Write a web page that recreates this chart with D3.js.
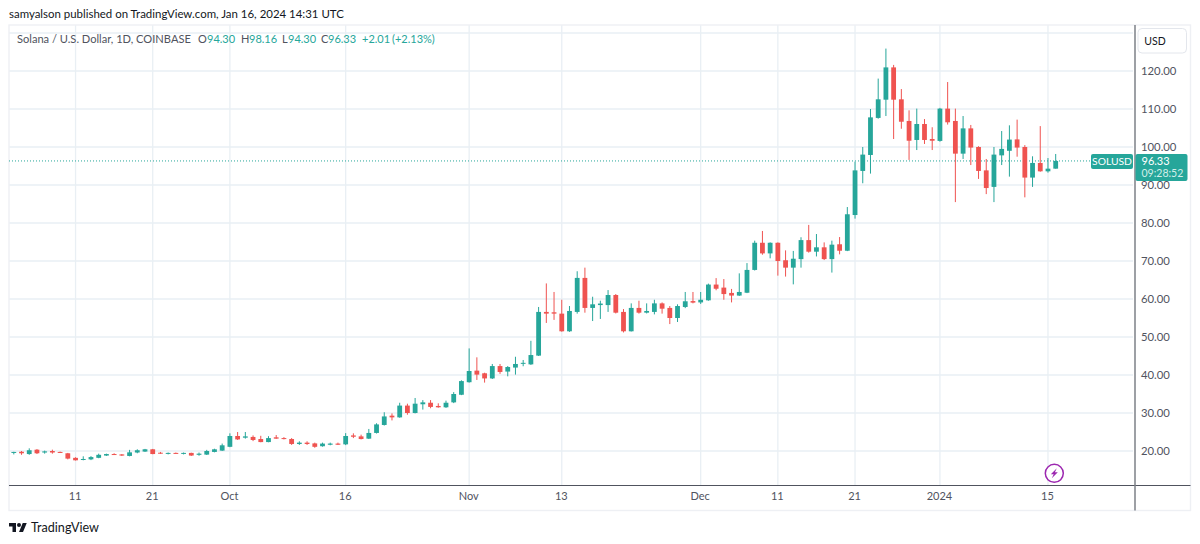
<!DOCTYPE html>
<html>
<head>
<meta charset="utf-8">
<script src="https://cdn.jsdelivr.net/npm/d3@7"></script>
<style>
  html, body { margin: 0; padding: 0; background: #fff; }
  svg { display: block; }
  text { font-family: Lato, "Noto Sans", sans-serif; }
</style>
</head>
<body>
<svg id="chart" width="1200" height="544"></svg>
<script>
// SOL/USD daily candles, 2023-09-03 to 2024-01-16
const firstDay = "2023-09-03";
const lastDay = "2024-01-16";

const opens = [
  19.55,19.8,19.2,20.35,19.6,20,19.75,19.4,18.2,17.65,17.8,18.2,18.8,19.2,19.1,18.7,19.6,19.85,20.45,19.55,19.3,19.5,19.35,19.5,19,19.05,19.75,20.1,
  21.1,23.95,23.5,23.7,23.15,22.35,23.6,23.4,23.15,21.85,22.2,22,21.25,21.65,21.95,21.75,24.1,23.85,23.25,24.75,26.85,29.3,28.85,31.95,30,32.3,32.7,31.85,31.5,32.8,34.8,
  38.1,41.15,40.45,39.1,42.35,40.9,41.95,43,42.8,45.1,56.6,56.5,56.15,51.5,56.6,65.55,57.65,58.4,58.4,61.05,56.6,51.5,57.65,56.4,56.6,58.85,57.65,55,57.9,59.45,
  59.1,59.65,63.8,63,61.6,60.9,61.65,67.65,74.8,72,74.8,70.2,68.25,70.5,75.5,72.45,73.6,70.5,74.4,72.7,82.1,93.7,97.9,107.65,112.45,120.95,112.55,106.85,101.85,106.05,102.1,
  101.6,110.1,106.85,98.25,104.9,100,93.85,89.5,97.8,99,102,100,91.95,95.8,93.6,94.3
];
const highs = [
  19.8,20,20.7,20.5,20.1,20.35,19.85,19.5,18.35,18.6,18.65,19.3,19.3,19.4,19.2,20.3,20.45,20.55,20.55,19.75,19.6,19.6,19.6,19.55,19.6,20.3,20.6,21.95,
  24.65,25,25,24.1,24,23.9,24.2,23.65,23.4,22.55,22.55,22.2,22.2,22.2,22.2,24.7,24.65,24.3,25.8,27.3,30.2,29.9,32.7,32.45,33.95,33.4,33.4,32.55,33.25,35.5,38.6,
  47,44.65,40.6,42.9,42.9,42.35,44.8,43.95,49,57.9,64.1,61.85,59.8,58.15,67.3,68.25,60.6,59.55,62.35,61.3,57.35,58.85,59.55,58.85,59.8,59.1,58.15,58.6,61.85,61.85,
  61.85,64.05,65.5,65.25,62.65,66.75,69.45,75.35,77.9,74.9,74.9,72.8,72.65,76.25,79.5,77.1,74.9,75.35,76.3,84.2,96.15,100,110,118,125.9,121.6,115.25,109.65,110.1,107.35,105.2,
  110.3,117.1,110.1,108.15,105.8,100.2,96.85,100,104.2,105.7,107.2,100.5,97.55,105.5,97.1,98.16
];
const lows = [
  19.1,19,19,19.2,19.3,19.3,19.5,17.8,17.5,17.55,17.6,18.1,18.7,18.95,18.7,18.6,19.4,19.75,19.15,19.25,19.1,19.3,19.1,18.7,18.75,18.95,19.65,20,
  21,22.9,23.25,22.6,22.3,22.3,23.2,23.05,21.6,21.6,21.6,20.85,21.15,21.5,21.6,21.55,23.4,23.05,23.15,24.6,26.7,28.05,28.75,29.55,29.9,30.9,31.25,31.4,31.35,32.6,34.7,
  38,38.7,38,38.95,40.3,39.65,40.1,42.3,42.65,45,53.7,54.5,51.4,51.35,56.15,56.4,54.2,54.75,56.6,56.2,51.2,51.45,56.15,56.2,55.95,56.15,53.4,53.95,57.6,58.85,
  58.7,59.55,62.3,59.8,59.1,60.8,61.55,67.5,71.65,70.7,66.15,65.9,63.85,68.25,72.2,71.2,70.25,66.95,71.75,72.6,81.15,90.45,93,107.45,108.15,102.1,104.8,96.6,99.2,100.8,99.2,
  101.4,105.9,85.5,96.85,95.25,91.6,87.6,85.5,95.25,92.2,97.45,86.75,89.5,93.5,93.25,94.3
];
const closes = [
  19.75,19.4,20.2,19.4,19.9,19.6,19.55,18,17.55,17.9,18.4,19,19.2,19,18.8,19.65,20.2,20.45,19.2,19.3,19.5,19.3,19.5,18.8,19.3,20,20.45,21.5,
  23.95,23.05,23.85,22.9,22.35,23.4,23.25,23.15,21.85,22.2,21.85,21.1,21.95,21.95,21.65,23.95,23.75,23.15,24.75,27,29.1,28.85,31.95,30,32.45,32.8,31.6,31.5,32.7,35,38.4,
  41.05,40.1,39.1,42.35,40.8,42.1,42.9,43.2,45.25,56.6,56.15,56.15,51.5,56.85,65.55,57.65,58.6,58.8,61.05,56.4,51.5,57.65,56.4,56.85,58.85,57.45,55,58.15,59.4,59.05,
  59.8,63.8,62.7,61.3,60.9,61.85,67.65,74.8,72,74.8,70,68.25,70.6,75.5,72.45,73.6,70.5,74.3,72.7,82.3,93.85,98,107.8,112.55,120.95,112.45,106.65,101.65,106.05,101.85,101.65,
  110.1,106.5,98.25,104.9,99.85,93.7,89.2,98,99.5,101.95,99.85,91.95,95.8,93.6,94.3,96.33
];

const priceTicks = [20,30,40,50,60,70,80,90,100,110,120,130];
const labelledPrices = [20,30,40,50,60,70,80,90,100,110,120];
const timeTickDates = ["2023-09-11","2023-09-21","2023-10-01","2023-10-16","2023-11-01","2023-11-13","2023-12-01","2023-12-11","2023-12-21","2024-01-01","2024-01-15"];
const timeTickLabels = ["11","21","Oct","16","Nov","13","Dec","11","21","2024","15"];

const legendName = "Solana / U.S. Dollar, 1D, COINBASE";
const legendFields = [["O","94.30"],["H","98.16"],["L","94.30"],["C","96.33"]];
const lastClose = 96.33;

const up = "#26a69a", down = "#ef5350", grid = "#e9eff4", ink = "#50535e", frame = "#eef0f4";

const svg = d3.select("#chart");
const plot = {left: 9, right: 1135, top: 25, bottom: 485.5, outerRight: 1190.5, outerBottom: 510.5};

const parse = d3.utcParse("%Y-%m-%d");
const days = d3.utcDay.range(parse(firstDay), d3.utcDay.offset(parse(lastDay), 1));
const candles = days.map((date, i) => ({date, o: opens[i], h: highs[i], l: lows[i], c: closes[i]}));

const x = d3.scaleUtc().domain([parse(firstDay), parse(lastDay)]).range([13.8, 1055.7]);
const y = d3.scaleLinear().domain([20, 120]).range([451, 71]);

// Grid
svg.append("g").selectAll("line").data(priceTicks).join("line")
  .attr("x1", plot.left).attr("x2", plot.right - 2)
  .attr("y1", d => y(d)).attr("y2", d => y(d))
  .attr("stroke", grid).attr("stroke-width", 1.3);
svg.append("g").selectAll("line").data(timeTickDates).join("line")
  .attr("x1", d => x(parse(d))).attr("x2", d => x(parse(d)))
  .attr("y1", plot.top).attr("y2", plot.bottom)
  .attr("stroke", grid).attr("stroke-width", 1.3);

// Outer frame
svg.append("rect")
  .attr("x", plot.left).attr("y", plot.top)
  .attr("width", plot.outerRight - plot.left).attr("height", plot.outerBottom - plot.top)
  .attr("fill", "none").attr("stroke", frame).attr("stroke-width", 1.4);

// Last price line
svg.append("line")
  .attr("x1", plot.left).attr("x2", 1091)
  .attr("y1", y(lastClose)).attr("y2", y(lastClose))
  .attr("stroke", up).attr("stroke-width", 1).attr("stroke-dasharray", "1 2");

// Candles
const bodyWidth = 4.8;
const candle = svg.append("g").selectAll("g").data(candles).join("g")
  .attr("fill", d => d.c >= d.o ? up : down)
  .attr("stroke", d => d.c >= d.o ? up : down);
candle.append("line")
  .attr("x1", d => x(d.date)).attr("x2", d => x(d.date))
  .attr("y1", d => y(d.h)).attr("y2", d => y(d.l))
  .attr("stroke-width", 1);
candle.append("rect")
  .attr("x", d => x(d.date) - bodyWidth / 2)
  .attr("width", bodyWidth)
  .attr("y", d => y(Math.max(d.o, d.c)))
  .attr("height", d => Math.max(1, Math.abs(y(d.o) - y(d.c))))
  .attr("stroke", "none");

// Time axis
const xAxis = d3.axisBottom(x)
  .tickValues(timeTickDates.map(parse))
  .tickSize(0).tickPadding(7)
  .tickFormat((d, i) => timeTickLabels[i]);
const xg = svg.append("g").attr("transform", `translate(-1,${plot.bottom})`).call(xAxis);
xg.select(".domain").remove();
xg.selectAll("text").attr("fill", ink).attr("font-size", 11).attr("font-family", null);
svg.append("line")
  .attr("x1", plot.left).attr("x2", plot.outerRight)
  .attr("y1", plot.bottom).attr("y2", plot.bottom)
  .attr("stroke", "#50535e").attr("stroke-width", 1.1);

// Price axis
const yAxis = d3.axisRight(y)
  .tickValues(labelledPrices)
  .tickSize(0).tickPadding(6)
  .tickFormat(d3.format(".2f"));
const yg = svg.append("g").attr("transform", `translate(${plot.right},0)`).call(yAxis);
yg.select(".domain").remove();
yg.selectAll("text").attr("fill", ink).attr("font-size", 11.3).attr("font-family", null);
svg.append("line")
  .attr("x1", plot.right).attr("x2", plot.right)
  .attr("y1", plot.top).attr("y2", plot.outerBottom)
  .attr("stroke", "#7d8087").attr("stroke-width", 1.5);

// Currency button
svg.append("rect")
  .attr("x", 1138).attr("y", 28.5).attr("width", 48.5).attr("height", 24.5).attr("rx", 4)
  .attr("fill", "#fff").attr("stroke", "#e3e6ec");
svg.append("text").attr("x", 1155).attr("y", 44.5).attr("text-anchor", "middle")
  .attr("font-size", 10.5).attr("fill", "#131722").text("USD");

// Symbol tag and last price tag
svg.append("rect")
  .attr("x", 1091).attr("y", y(lastClose) - 7).attr("width", 42).attr("height", 15).attr("rx", 2)
  .attr("fill", up);
svg.append("text").attr("x", 1112).attr("y", y(lastClose) + 4)
  .attr("text-anchor", "middle").attr("font-size", 10.3).attr("fill", "#fff").text("SOLUSD");
svg.append("rect")
  .attr("x", 1135.5).attr("y", y(lastClose) - 7).attr("width", 52).attr("height", 27).attr("rx", 2)
  .attr("fill", up);
svg.append("text").attr("x", 1141.5).attr("y", y(lastClose) + 4.2)
  .attr("font-size", 11).attr("fill", "#fff").text(d3.format(".2f")(lastClose));
svg.append("text").attr("x", 1141.5).attr("y", y(lastClose) + 16.2)
  .attr("font-size", 10.5).attr("fill", "#d3efe9").text("09:28:52");

// Header and legend
svg.append("text").attr("x", 9).attr("y", 18)
  .attr("font-size", 11.45).attr("fill", "#131722")
  .text("samyalson published on TradingView.com, Jan 16, 2024 14:31 UTC");
svg.append("text").attr("x", 17).attr("y", 43)
  .attr("font-size", 11.1).attr("fill", ink).text(legendName);

const legendLetterX = [198, 241, 282, 321];
const legendValueX = [207, 249, 288, 328];
legendFields.forEach(([letter, value], i) => {
  svg.append("text").attr("x", legendLetterX[i]).attr("y", 43)
    .attr("font-size", 11).attr("fill", ink).text(letter);
  svg.append("text").attr("x", legendValueX[i]).attr("y", 43)
    .attr("font-size", 11).attr("fill", up).text(value);
});
svg.append("text").attr("x", 362).attr("y", 43)
  .attr("font-size", 11).attr("fill", up).text("+2.01");
svg.append("text").attr("x", 392).attr("y", 43)
  .attr("font-size", 11).attr("fill", up).text("(+2.13%)");

// Event badge
const badge = svg.append("g").attr("transform", "translate(1054.3,473.3)");
badge.append("circle").attr("r", 9).attr("fill", "#fff").attr("stroke", "#9c27b0").attr("stroke-width", 1.5);
badge.append("path").attr("d", "M2.5,-5 L-3.5,1 L-0.6,1 L-2.5,5 L3.5,-1 L0.6,-1 Z").attr("fill", "#9c27b0");

// Brand mark
const brand = svg.append("g").attr("transform", "translate(9,521) scale(0.5)").attr("fill", "#131722");
brand.append("path").attr("d", "M14 22H7V11H0V4h14v18zM28 22h-8l7.5-18h8L28 22z");
brand.append("circle").attr("cx", 20).attr("cy", 8).attr("r", 4);
svg.append("text").attr("x", 31).attr("y", 532)
  .attr("font-size", 12.6).attr("fill", "#131722").text("TradingView");
</script>
</body>
</html>
